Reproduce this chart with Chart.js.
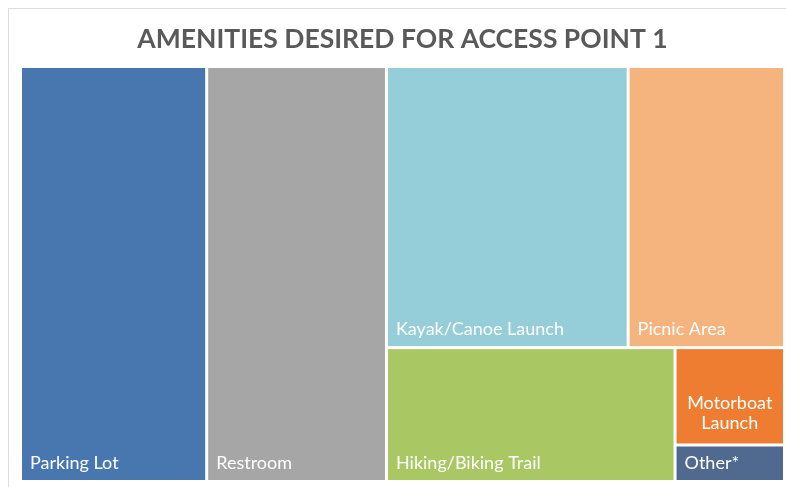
<!DOCTYPE html>
<html>
<head>
<meta charset="utf-8">
<script src="https://cdn.jsdelivr.net/npm/chart.js@4.4.1/dist/chart.umd.min.js"></script>
<style>
  html, body { margin: 0; padding: 0; background: #ffffff; }
  body { width: 786px; height: 487px; position: relative; overflow: hidden; }
  #frame { position: absolute; left: 8px; top: 8px; width: 820px; height: 520px; border: 1px solid #dcdcdc; box-sizing: border-box; }
  #wrap { position: absolute; left: 0; top: 0; width: 786px; height: 487px; }
</style>
</head>
<body>
<div id="frame"></div>
<div id="wrap"><canvas id="c" width="786" height="487"></canvas></div>
<script>
// ---- data ----
const categories = ['Parking Lot', 'Restroom', 'Kayak/Canoe Launch', 'Picnic Area', 'Hiking/Biking Trail', 'Motorboat Launch', 'Other*'];
const responses = [58, 56, 51, 33, 29, 8, 3];
const cellColors = ['#4877b0', '#a6a6a6', '#95cdd9', '#f5b47d', '#a9c762', '#ee7d32', '#50698f'];
const chartTitle = 'AMENITIES DESIRED FOR ACCESS POINT 1';
// treemap grouping (slice direction, then members by index)
const treeLayout = ['h', 0, 1, ['v', ['h', 2, 3], ['h', 4, ['v', 5, 6]]]];

// ---- treemap layout in data space (x: 0..1 left->right, y: 0..1 top->bottom) ----
function nodeSum(n) {
  if (typeof n === 'number') return responses[n];
  return n.slice(1).reduce((s, c) => s + nodeSum(c), 0);
}
const rects = [];
function layout(n, x0, y0, x1, y1) {
  if (typeof n === 'number') { rects[n] = { x0, y0, x1, y1 }; return; }
  const dir = n[0];
  const kids = n.slice(1);
  const total = nodeSum(n);
  let pos = dir === 'h' ? x0 : y0;
  const span = dir === 'h' ? (x1 - x0) : (y1 - y0);
  kids.forEach(k => {
    const len = span * nodeSum(k) / total;
    if (dir === 'h') layout(k, pos, y0, pos + len, y1);
    else layout(k, x0, pos, x1, pos + len);
    pos += len;
  });
}
layout(treeLayout, 0, 0, 1, 1);

const datasets = categories.map((name, i) => ({
  label: name,
  data: [{ x: rects[i].x0, y: rects[i].y0 }, { x: rects[i].x1, y: rects[i].y1 }],
  backgroundColor: cellColors[i],
  borderColor: cellColors[i],
  pointRadius: 0,
  pointHoverRadius: 0,
  showLine: false
}));

const GAP = 1.5;
const LABEL_FONT = '18px Lato';
const treemapPlugin = {
  id: 'treemapCells',
  afterDatasetsDraw(chart) {
    const ctx = chart.ctx;
    ctx.save();
    chart.data.datasets.forEach((ds, i) => {
      const meta = chart.getDatasetMeta(i);
      const a = meta.data[0], b = meta.data[1];
      const left = Math.min(a.x, b.x) + GAP, right = Math.max(a.x, b.x) - GAP;
      const top = Math.min(a.y, b.y) + GAP, bottom = Math.max(a.y, b.y) - GAP;
      ctx.fillStyle = ds.backgroundColor;
      ctx.fillRect(left, top, right - left, bottom - top);
      // label
      ctx.font = LABEL_FONT;
      ctx.fillStyle = '#ffffff';
      ctx.textBaseline = 'alphabetic';
      const pad = 8;
      const maxW = right - left - 2 * pad;
      const text = ds.label;
      let lines = [text];
      if (ctx.measureText(text).width > maxW) {
        const words = text.split(' ');
        lines = [];
        let cur = '';
        words.forEach(w => {
          const t = cur ? cur + ' ' + w : w;
          if (cur && ctx.measureText(t).width > maxW) { lines.push(cur); cur = w; }
          else cur = t;
        });
        if (cur) lines.push(cur);
      }
      const lh = 20;
      if (lines.length === 1) {
        ctx.textAlign = 'left';
        ctx.fillText(lines[0], left + pad, bottom - 11);
      } else {
        ctx.textAlign = 'center';
        const cx = (left + right) / 2;
        const baseY = bottom - 14;
        lines.forEach((ln, k) => {
          ctx.fillText(ln, cx, baseY - (lines.length - 1 - k) * lh);
        });
      }
    });
    ctx.restore();
  }
};

new Chart(document.getElementById('c'), {
  type: 'scatter',
  data: { datasets },
  options: {
    responsive: false,
    animation: false,
    events: [],
    layout: { padding: { left: 20.5, right: 1.5, top: 0, bottom: 5.5 } },
    scales: {
      x: { type: 'linear', min: 0, max: 1, display: false },
      y: { type: 'linear', min: 0, max: 1, reverse: true, display: false }
    },
    plugins: {
      legend: { display: false },
      tooltip: { enabled: false },
      title: {
        display: true,
        text: chartTitle,
        color: '#595959',
        font: { family: 'Lato', size: 26.5, weight: 'bold', lineHeight: 1.2 },
        padding: { top: 23.1, bottom: 11.6 }
      }
    }
  },
  plugins: [treemapPlugin]
});
</script>
</body>
</html>
